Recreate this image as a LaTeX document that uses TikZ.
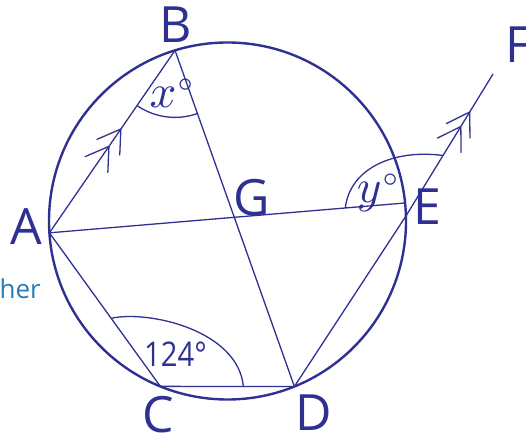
\documentclass[tikz,border=0pt]{standalone}
\usepackage{fontspec}
\newfontfamily\labfont{Open Sans}
\usetikzlibrary{decorations.markings,calc}
\definecolor{navy}{HTML}{2E3192}
\definecolor{lightblue}{HTML}{2A7AB8}
\begin{document}
\begin{tikzpicture}[x=1pt,y=1pt,
  circ/.style={draw=navy,line width=2.4pt},
  seg/.style={draw=navy,line width=1.3pt},
  chevs/.style 2 args={postaction={decorate},decoration={markings,
    mark=at position #1 with {\draw[seg,line join=round,line cap=round] (-22,13.8)--(0,0)--(-22,-13.8);},
    mark=at position #2 with {\draw[seg,line join=round,line cap=round] (-22,13.8)--(0,0)--(-22,-13.8);}}},
  lab/.style={text=navy,font=\labfont\fontsize{50}{60}\selectfont,inner sep=0pt,anchor=base},
  anglab/.style={text=navy,inner sep=0pt,anchor=base}]
\useasboundingbox (0,0) rectangle (526,436);
\coordinate (O) at (227.5,215);
\coordinate (A) at ($(O)+(183.8:178.5)$);
\coordinate (B) at ($(O)+(107.1:178.5)$);
\coordinate (C) at ($(O)+(247.9:178.5)$);
\coordinate (D) at ($(O)+(292:178.5)$);
\coordinate (Ea) at ($(O)+(5.8:178.5)$);
\coordinate (E) at ($(O)+(1.6:178.5)$);
\coordinate (F) at (493,362);
% circle
\draw[circ] (O) circle[radius=178.5];
% chords
\draw[seg,chevs={126pt}{105pt}] (A) -- (B);
\draw[seg] (B) -- (D);
\draw[seg] (A) -- (Ea);
\draw[seg] (A) -- (C);
\draw[seg] (C) -- (D);
\draw[seg] (D) -- (E);
\draw[seg,chevs={122pt}{105pt}] (E) -- (F);
% angle arcs
\draw[seg] ($(B)+(235.45:67)$) arc[start angle=235.45,end angle=289.56,radius=67];
\draw[seg] ($(C)!84pt!(A)$) .. controls (148,126) and (238,106) .. ($(C)!83pt!(D)$);
\draw[seg] ($(Ea)!60pt!(A)$) .. controls (350,268) and (394,287) .. ($(E)!71pt!(F)$);
% labels
\node[lab] (lA) at (26.5,191) {A};
\node[lab] (lB) at (175.5,393) {B};
\node[lab] (lC) at (158,4) {C};
\node[lab] (lD) at (314,6) {D};
\node[lab] (lE) at (427,211) {E};
\node[lab,anchor=base west] (lF) at (505,373) {F};
\node[lab] (lG) at (252,220) {G};
\node[anglab] (lx) at (173,328) {\scalebox{4.7}{$x^{\scriptscriptstyle\circ}$}};
\node[anglab] (ly) at (379,233) {\scalebox{4.7}{$y^{\scriptscriptstyle\circ}$}};
\node[text=navy,font=\labfont\fontsize{34}{40}\selectfont,inner sep=0pt,anchor=base west] (l124) at (144,69.3) {\scalebox{0.86}[1]{124°}};
\node[text=lightblue,font=\labfont\fontsize{26}{30}\selectfont,inner sep=0pt,anchor=base east] (her) at (41,137) {her};
\end{tikzpicture}
\end{document}
